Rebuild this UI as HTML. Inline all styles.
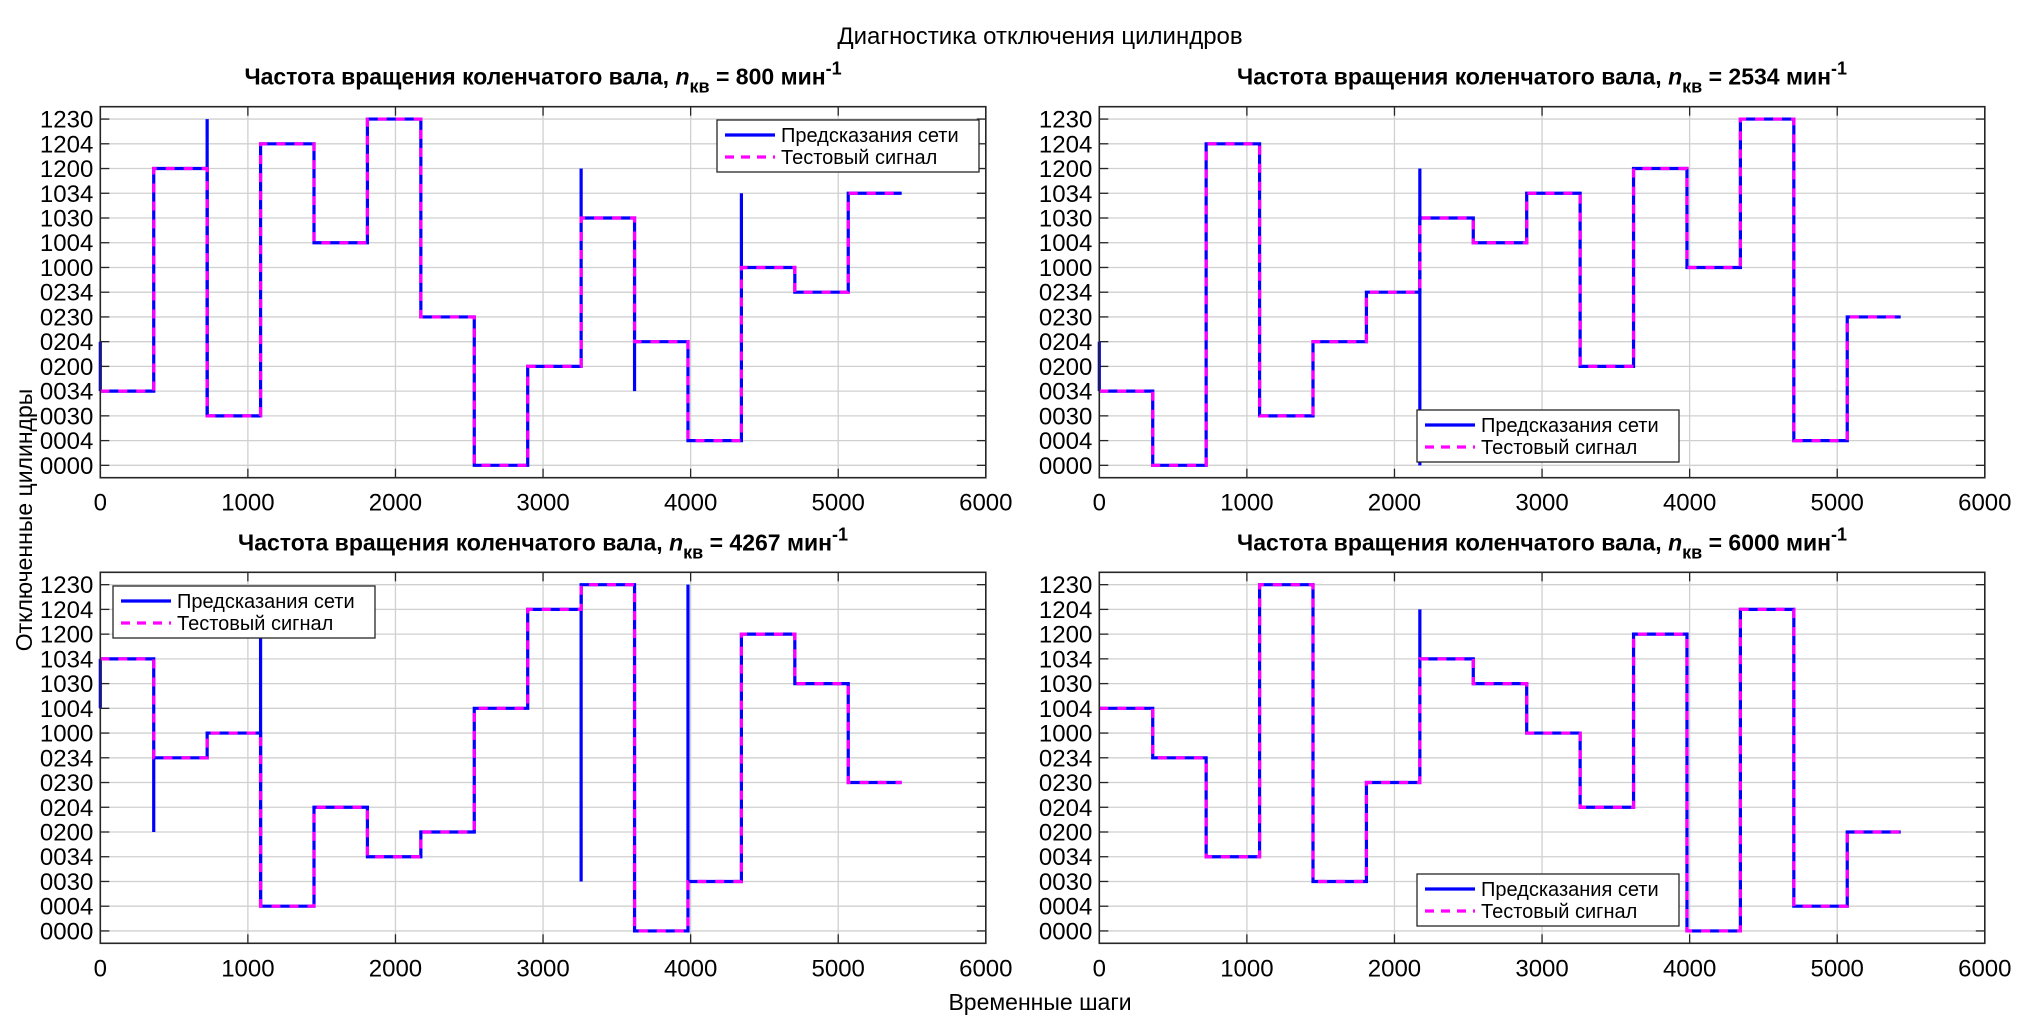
<!DOCTYPE html>
<html><head><meta charset="utf-8">
<style>
html,body{margin:0;padding:0;background:#fff;}
svg{display:block;font-family:"Liberation Sans",Arial,sans-serif;}
</style></head>
<body>
<svg id="fig" width="2020" height="1033" viewBox="0 0 2020 1033" xmlns="http://www.w3.org/2000/svg">
<rect width="2020" height="1033" fill="#fff"/>
<text x="1040" y="44" font-size="24" text-anchor="middle" fill="#000">Диагностика отключения цилиндров</text>
<text transform="translate(32,520) rotate(-90)" font-size="23" text-anchor="middle" fill="#000">Отключенные цилиндры</text>
<text x="1040" y="1010" font-size="23" text-anchor="middle" fill="#000">Временные шаги</text>
</svg>
<script>
const categories = ["0000","0004","0030","0034","0200","0204","0230","0234","1000","1004","1030","1034","1200","1204","1230"];
const xTicks = [0,1000,2000,3000,4000,5000,6000];
const boundaries = [0,362,724,1086,1448,1810,2172,2534,2896,3258,3620,3982,4344,4706,5068,5430];
const speeds = ["800","2534","4267","6000"];
const test1 = [3,12,2,13,9,14,6,0,4,10,5,1,8,7,11];
const test2 = [3,0,13,2,5,7,10,9,11,4,12,8,14,1,6];
const test3 = [11,7,8,1,5,3,4,9,13,14,0,2,12,10,6];
const test4 = [9,7,3,14,2,6,11,10,8,5,12,0,13,1,4];
// prediction spikes: [x, category index]
const spikes1 = [[0,5],[724,14],[3258,12],[3620,3],[4344,11]];
const spikes2 = [[0,5],[2172,12],[2172,0]];
const spikes3 = [[0,9],[362,4],[1086,12],[3258,2],[3982,14]];
const spikes4 = [[2172,13]];

const tests=[test1,test2,test3,test4];
const spikesAll=[spikes1,spikes2,spikes3,spikes4];
const panels=[{x:100.3,y:106.7},{x:1099.3,y:106.7},{x:100.3,y:572.3},{x:1099.3,y:572.3}];
const legendPos=[{x:717,y:120},{x:1417,y:410},{x:113,y:586},{x:1417,y:874}];
const W=885.5,H=371;
const NS="http://www.w3.org/2000/svg";
const svg=document.getElementById('fig');
function el(tag,attrs,parent){const e=document.createElementNS(NS,tag);for(const k in attrs)e.setAttribute(k,attrs[k]);(parent||svg).appendChild(e);return e;}

panels.forEach((p,i)=>{
  const g=el('g',{});
  
  
  const sx=v=>p.x+v/6000*W;
  const sy=c=>p.y+H-(c+0.5)/15*H;
  categories.forEach((c,k)=>{
    const l=el('line',{x1:p.x,x2:p.x+W,y1:sy(k),y2:sy(k),stroke:'#d0d0d0','stroke-width':1.3},g);
    
    
  });
  xTicks.forEach(t=>{
    const l=el('line',{x1:sx(t),x2:sx(t),y1:p.y,y2:p.y+H,stroke:'#d0d0d0','stroke-width':1.3},g);
    
    
  });
  categories.forEach((c,k)=>{
    el('line',{x1:p.x,x2:p.x+9,y1:sy(k),y2:sy(k),stroke:'#262626','stroke-width':1.3},g);
    el('line',{x1:p.x+W,x2:p.x+W-9,y1:sy(k),y2:sy(k),stroke:'#262626','stroke-width':1.3},g);
    const t=el('text',{x:p.x-7,y:sy(k)+8.5,'font-size':24,'text-anchor':'end',fill:'#000'},g);
    
    
    t.textContent=c;
  });
  xTicks.forEach(v=>{
    el('line',{x1:sx(v),x2:sx(v),y1:p.y+H,y2:p.y+H-9,stroke:'#262626','stroke-width':1.3},g);
    el('line',{x1:sx(v),x2:sx(v),y1:p.y,y2:p.y+9,stroke:'#262626','stroke-width':1.3},g);
    const t=el('text',{x:sx(v),y:p.y+H+33,'font-size':24,'text-anchor':'middle',fill:'#000'},g);
    
    
    t.textContent=v;
  });
  const tt=el('text',{x:p.x+W/2,y:p.y-22,'font-size':23,'font-weight':'bold','text-anchor':'middle',fill:'#000'},g);
  
  
  tt.innerHTML='Частота вращения коленчатого вала, <tspan font-style="italic">n</tspan><tspan dy="8" font-size="18">кв</tspan><tspan dy="-8"> = '+speeds[i]+' мин</tspan><tspan dy="-10" font-size="18">-1</tspan>';
  const data=tests[i];
  let d='';
  data.forEach((v,k)=>{
    d+=(k===0?'M':'L')+sx(boundaries[k])+','+sy(v)+' L'+sx(boundaries[k+1])+','+sy(v)+' ';
  });
  const pred=el('path',{d:d,fill:'none',stroke:'#0000ff','stroke-width':3.2},g);
  
  
  spikesAll[i].forEach(s=>{
    const k=boundaries.indexOf(s[0]);
    const base=data[Math.min(k,data.length-1)];
    const sp=el('line',{x1:sx(s[0]),x2:sx(s[0]),y1:sy(base),y2:sy(s[1]),stroke:'#0000ff','stroke-width':3.2},g);
    
    
  });
  const tl=el('path',{d:d,fill:'none',stroke:'#ff00ff','stroke-width':3.2,'stroke-dasharray':'9 9'},g);
  
  
  const bx=el('rect',{x:p.x,y:p.y,width:W,height:H,fill:'none',stroke:'#262626','stroke-width':1.6},g);
  
  
  const L=legendPos[i];
  const lg=el('g',{},g);
  
  
  el('rect',{x:L.x,y:L.y,width:262,height:52,fill:'#fff',stroke:'#262626','stroke-width':1.3},lg);
  el('line',{x1:L.x+8,x2:L.x+58,y1:L.y+15,y2:L.y+15,stroke:'#0000ff','stroke-width':3.2},lg);
  el('line',{x1:L.x+8,x2:L.x+58,y1:L.y+37,y2:L.y+37,stroke:'#ff00ff','stroke-width':3.2,'stroke-dasharray':'9 7'},lg);
  const t1=el('text',{x:L.x+64,y:L.y+22,'font-size':20,fill:'#000'},lg);
  
  
  t1.textContent='Предсказания сети';
  const t2=el('text',{x:L.x+64,y:L.y+44,'font-size':20,fill:'#000'},lg);
  
  
  t2.textContent='Тестовый сигнал';
});
</script>
</body></html>
